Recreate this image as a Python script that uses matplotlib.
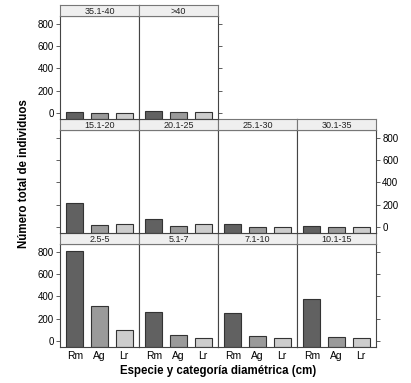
import numpy as np
import matplotlib.pyplot as plt

plt.rcParams['font.family'] = ['Liberation Sans', 'DejaVu Sans']

# ============================================================
# Datos
# ============================================================

categorias = ["2.5-5", "5.1-7", "7.1-10", "10.1-15",
              "15.1-20", "20.1-25", "25.1-30", "30.1-35",
              "35.1-40", ">40"]
especies = ["Rm", "Ag", "Lr"]

rm = [812, 258, 252, 377, 217, 70, 24, 9, 3, 12]
ag = [315, 51, 40, 35, 13, 6, 0, 0, 0, 3]
lr = [99, 27, 20, 25, 27, 21, 0, 0, 0, 3]

colores = ["#616161", "#9a9a9a", "#cdcdcd"]
yticks = [0, 200, 400, 600, 800]

# ============================================================
# Figura (estilo lattice)
# ============================================================

W, H = 411, 383
fig = plt.figure(figsize=(W / 100, H / 100), dpi=100)

col_x = [60, 139, 218, 297, 376]
# (strip top, panel top, panel bottom) en pixeles por fila (de abajo a arriba)
filas = [(233, 244, 347), (119, 130, 233), (5, 16, 119)]

ymin, ymax = -57, 872
edge = "#444444"


def px_box(x0, x1, y0, y1):
    return [x0 / W, 1 - y1 / H, (x1 - x0) / W, (y1 - y0) / H]


for i, cat in enumerate(categorias):
    fila = i // 4
    col = i % 4
    st, pt, pb = filas[fila]
    x0, x1 = col_x[col], col_x[col + 1]

    ax = fig.add_axes(px_box(x0, x1, pt, pb))
    vals = [rm[i], ag[i], lr[i]]
    pos = np.arange(1, 4)
    ax.bar(pos, np.array(vals) - ymin, bottom=ymin, width=0.68,
           color=colores, edgecolor="#333333", linewidth=0.8)
    ax.set_xlim(0.4, 3.6)
    ax.set_ylim(ymin, ymax)
    for s in ax.spines.values():
        s.set_color(edge)
        s.set_linewidth(0.8)

    ax.set_yticks(yticks)
    ax.tick_params(axis="y", length=3, width=0.6, color=edge,
                   labelsize=7, pad=1.5)
    # etiquetas alternadas como en lattice
    ax.tick_params(axis="y", left=(col == 0), right=(col == 3 or (fila == 2 and col == 1)),
                   labelleft=(col == 0 and fila != 1),
                   labelright=(col == 3 and fila == 1))

    if fila == 0:
        ax.set_xticks(pos)
        ax.set_xticklabels(especies)
        ax.tick_params(axis="x", length=0, labelsize=7.5, pad=3)
    else:
        ax.set_xticks([])

    # strip
    sax = fig.add_axes(px_box(x0, x1, st, pt))
    sax.set_facecolor("#efefef")
    sax.set_xticks([])
    sax.set_yticks([])
    for s in sax.spines.values():
        s.set_color("#777777")
        s.set_linewidth(0.8)
    sax.text(0.5, 0.45, cat, ha="center", va="center", fontsize=6.5,
             color="#222222", transform=sax.transAxes)

fig.text(218 / W, 1 - 371 / H, "Especie y categoría diamétrica (cm)",
         ha="center", va="center", fontsize=8.3, fontweight="bold")
fig.text(24 / W, 1 - 174 / H, "Número total de individuos",
         ha="center", va="center", rotation=90, fontsize=8.3,
         fontweight="bold")

fig.savefig("out.png", dpi=100)
